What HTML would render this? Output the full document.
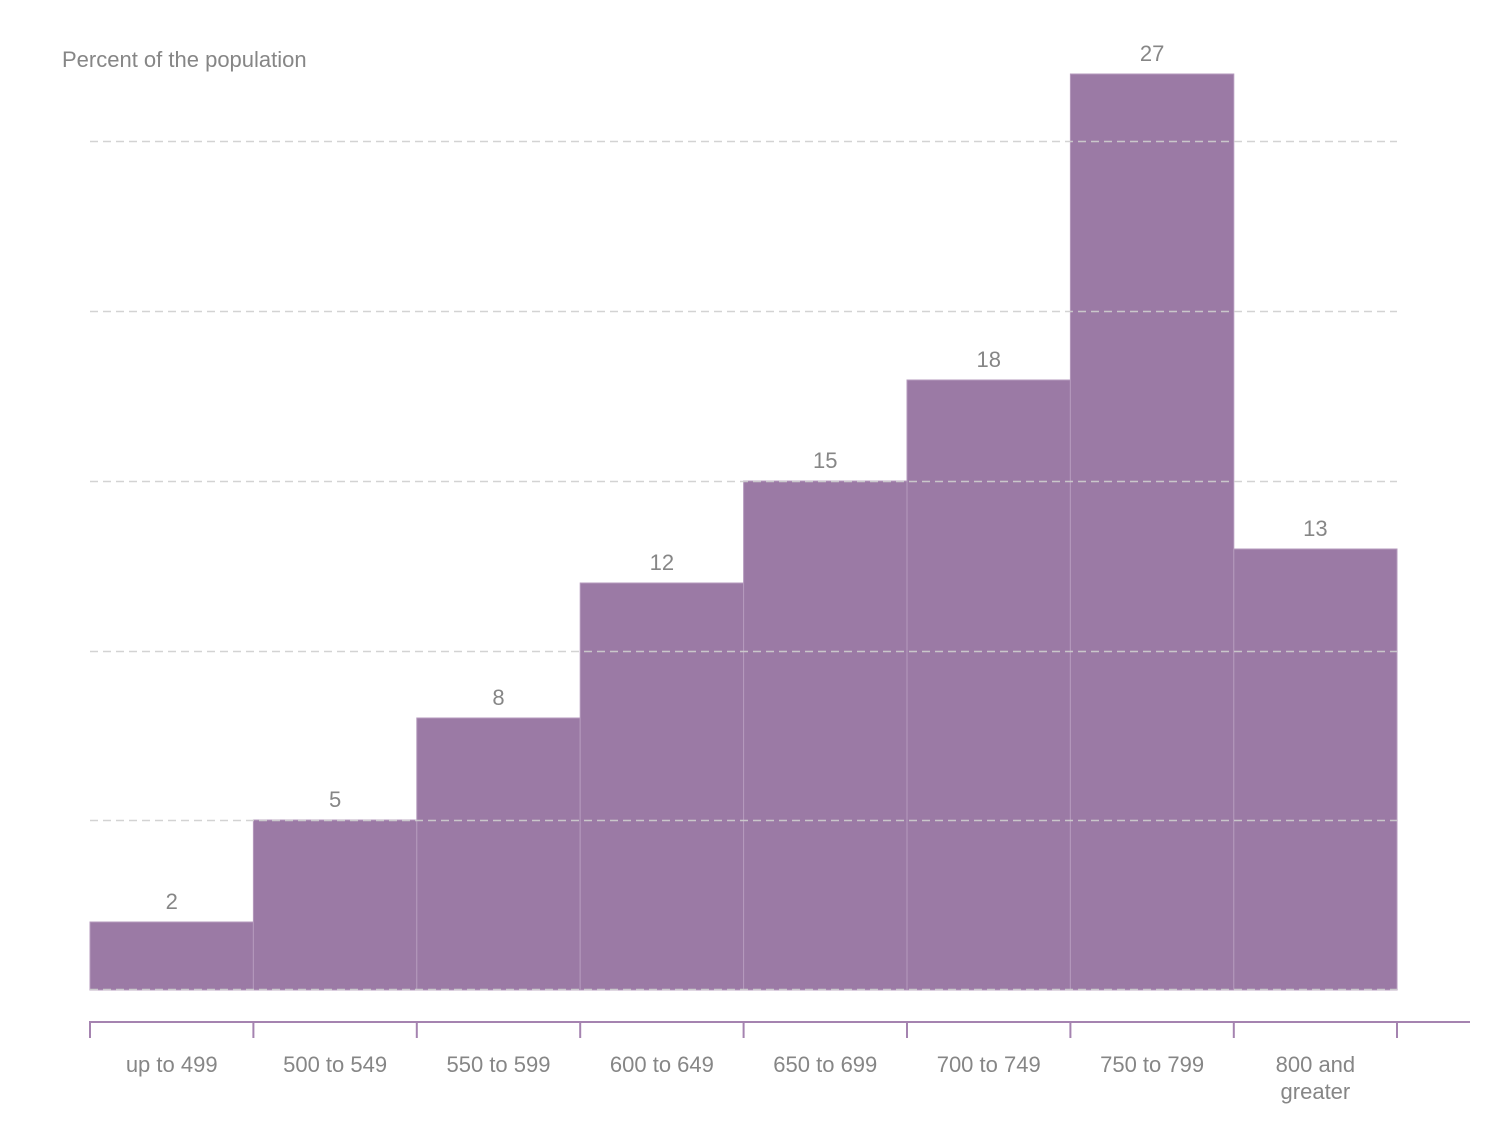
<!DOCTYPE html>
<html><head><meta charset="utf-8"><style>
html,body{margin:0;padding:0;background:#fff}
svg{display:block}
text{font-family:"Liberation Sans",sans-serif;fill:#868686;font-size:22px}
</style></head><body>
<svg width="1500" height="1126" viewBox="0 0 1500 1126" xmlns="http://www.w3.org/2000/svg">
<text x="62" y="67">Percent of the population</text>
<g fill="#9b7aa5" stroke="#b59abd" stroke-width="1">
<rect x="90" y="922" width="163.4" height="68"/>
<rect x="253.4" y="820" width="163.4" height="170"/>
<rect x="416.8" y="718" width="163.4" height="272"/>
<rect x="580.2" y="583" width="163.4" height="407"/>
<rect x="743.6" y="481" width="163.4" height="509"/>
<rect x="907" y="380" width="163.4" height="610"/>
<rect x="1070.4" y="74" width="163.4" height="916"/>
<rect x="1233.8" y="549" width="163.2" height="441"/>
</g>
<g stroke="#cfcfcf" stroke-width="1.5" stroke-dasharray="8,5" opacity="0.9">
<line x1="90" y1="141.5" x2="1397" y2="141.5"/>
<line x1="90" y1="311.5" x2="1397" y2="311.5"/>
<line x1="90" y1="481.5" x2="1397" y2="481.5"/>
<line x1="90" y1="651.5" x2="1397" y2="651.5"/>
<line x1="90" y1="820.5" x2="1397" y2="820.5"/>
<line x1="90" y1="989.5" x2="1397" y2="989.5"/>
</g>
<g text-anchor="middle">
<text x="171.7" y="909">2</text>
<text x="335.1" y="807">5</text>
<text x="498.5" y="705">8</text>
<text x="661.9" y="570">12</text>
<text x="825.3" y="468">15</text>
<text x="988.7" y="367">18</text>
<text x="1152.1" y="61">27</text>
<text x="1315.4" y="536">13</text>
</g>
<g stroke="#a583b0" stroke-width="2">
<line x1="89" y1="1022" x2="1470" y2="1022"/>
<line x1="90" y1="1022" x2="90" y2="1038"/>
<line x1="253.4" y1="1022" x2="253.4" y2="1038"/>
<line x1="416.8" y1="1022" x2="416.8" y2="1038"/>
<line x1="580.2" y1="1022" x2="580.2" y2="1038"/>
<line x1="743.6" y1="1022" x2="743.6" y2="1038"/>
<line x1="907" y1="1022" x2="907" y2="1038"/>
<line x1="1070.4" y1="1022" x2="1070.4" y2="1038"/>
<line x1="1233.8" y1="1022" x2="1233.8" y2="1038"/>
<line x1="1397" y1="1022" x2="1397" y2="1038"/>
</g>
<g text-anchor="middle">
<text x="171.7" y="1072">up to 499</text>
<text x="335.1" y="1072">500 to 549</text>
<text x="498.5" y="1072">550 to 599</text>
<text x="661.9" y="1072">600 to 649</text>
<text x="825.3" y="1072">650 to 699</text>
<text x="988.7" y="1072">700 to 749</text>
<text x="1152.1" y="1072">750 to 799</text>
<text x="1315.4" y="1072">800 and</text>
<text x="1315.4" y="1099">greater</text>
</g>
</svg>
</body></html>
